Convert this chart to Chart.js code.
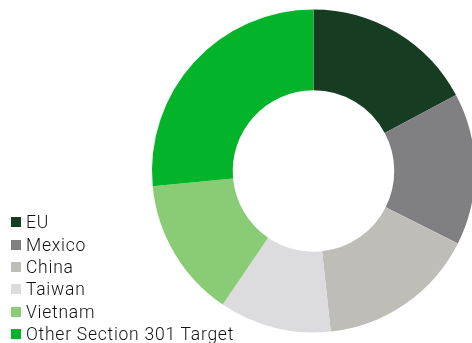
<!DOCTYPE html>
<html>
<head>
<meta charset="utf-8">
<script src="https://cdn.jsdelivr.net/npm/chart.js@4"></script>
<style>
  html, body { margin: 0; padding: 0; background: #fff; overflow: hidden; }
  #wrap { position: relative; width: 480px; height: 343px; }
  #legend { position: absolute; left: 11px; top: 211px; font-family: Roboto, sans-serif; font-size: 17.5px; font-weight: 300; letter-spacing: 0.75px; color: #111; }
  #legend div { display: flex; align-items: center; height: 22.4px; white-space: nowrap; }
  #legend span.box { width: 10px; height: 10px; margin-right: 5px; display: inline-block; }
</style>
</head>
<body>
<div id="wrap">
  <canvas id="pieChart"></canvas>
  <div id="legend"></div>
</div>
<script>
// dati (quote in %)
const labels = ["EU", "Mexico", "China", "Taiwan", "Vietnam", "Other Section 301 Target"];
const shares = [17.2, 15.2, 15.9, 11.2, 14.0, 26.5];
const colors = ["#163d22", "#807f81", "#bfbdb7", "#dcdcde", "#8acc76", "#03b42a"];

var ctx = document.getElementById("pieChart").getContext("2d");
var pieChart = new Chart(ctx, {
  type: "doughnut",
  data: {
    labels: labels,
    datasets: [
      {
        data: shares,
        backgroundColor: colors,
        borderWidth: 0,
      },
    ],
  },
  options: {
    responsive: true,
    maintainAspectRatio: false,
    animation: false,
    cutout: "50%",
    layout: { padding: { left: 152, right: 5, top: 9.5, bottom: 10.5 } },
    plugins: {
      legend: { display: false },
      tooltip: { enabled: false },
    },
  },
});

// legenda in HTML
const legend = document.getElementById("legend");
labels.forEach((l, i) => {
  const row = document.createElement("div");
  const box = document.createElement("span");
  box.className = "box";
  box.style.background = colors[i];
  row.appendChild(box);
  row.appendChild(document.createTextNode(l));
  legend.appendChild(row);
});
</script>
</body>
</html>
